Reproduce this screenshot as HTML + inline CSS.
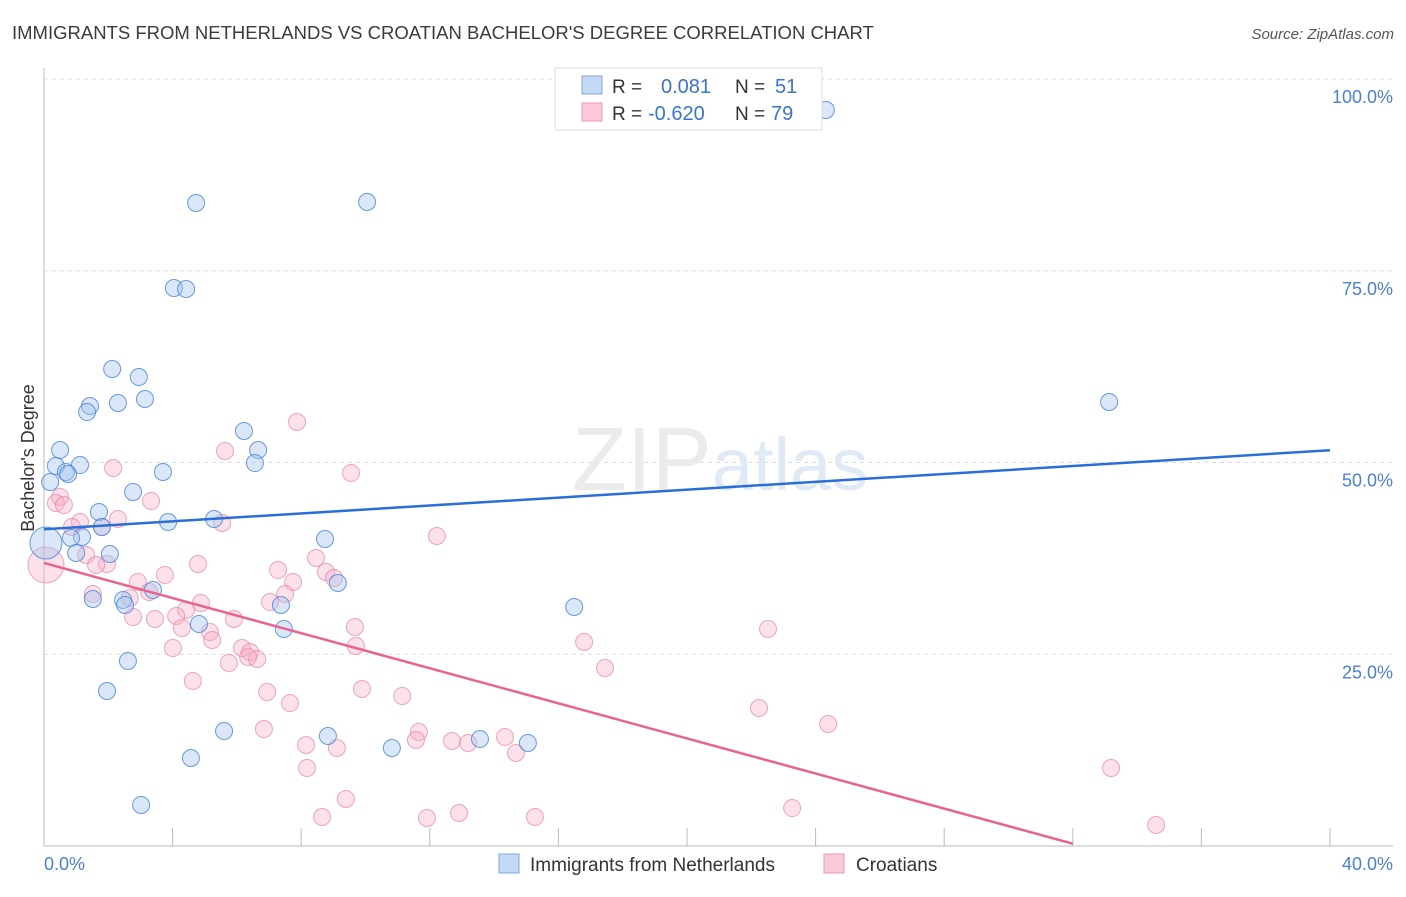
<!DOCTYPE html>
<html><head><meta charset="utf-8"><style>
body{margin:0;background:#fff;font-family:"Liberation Sans",sans-serif;}
svg text{font-family:"Liberation Sans",sans-serif;}
</style></head><body>
<svg id="c" width="1406" height="892" viewBox="0 0 1406 892">
<text x="12" y="39" font-size="18.5" fill="#3b3b3b">IMMIGRANTS FROM NETHERLANDS VS CROATIAN BACHELOR'S DEGREE CORRELATION CHART</text>
<text x="1394" y="39" font-size="15" fill="#555" font-style="italic" text-anchor="end">Source: ZipAtlas.com</text>
<text x="34" y="458" font-size="18" fill="#333" text-anchor="middle" transform="rotate(-90 34 458)">Bachelor's Degree</text>
<g id="grid"></g>
<text x="720" y="490" font-size="90" fill="#ebebeb" text-anchor="middle" font-family="Liberation Serif">ZIP<tspan fill="#e0eaf7" font-family="Liberation Sans" font-size="74">atlas</tspan></text>
<g id="pts"></g>
<g id="lines"></g>
<g>
<rect x="555" y="68" width="267" height="62" fill="#fff" stroke="#ddd"/>
<rect x="582" y="76" width="20" height="18" fill="#c5d9f4" stroke="#7aa5e0"/>
<rect x="582" y="103" width="20" height="18" fill="#f9c9d8" stroke="#ec98b2"/>
<text x="612" y="93" font-size="19" fill="#333">R = </text><text x="661" y="93" font-size="20" fill="#3a73d0">0.081</text>
<text x="735" y="93" font-size="19" fill="#333">N = </text><text x="775" y="93" font-size="20" fill="#3a73d0">51</text>
<text x="612" y="120" font-size="19" fill="#333">R = </text><text x="648" y="120" font-size="20" fill="#3a73d0">-0.620</text>
<text x="735" y="120" font-size="19" fill="#333">N = </text><text x="771" y="120" font-size="20" fill="#3a73d0">79</text>
</g>
<g>
<rect x="499" y="854" width="20" height="19" fill="#c5d9f4" stroke="#7aa5e0"/>
<text x="530" y="871" font-size="19" fill="#333">Immigrants from Netherlands</text>
<rect x="824" y="854" width="20" height="19" fill="#f9c9d8" stroke="#ec98b2"/>
<text x="856" y="871" font-size="19" fill="#333">Croatians</text>
</g>
</svg>
<script>
const blueX=[24.32,4.73,10.05,4.04,4.42,2.12,2.95,1.43,1.34,2.30,3.14,33.13,6.22,6.66,0.50,6.56,0.37,1.12,0.68,0.75,3.70,2.77,0.19,1.71,5.29,3.86,1.80,1.18,0.84,8.74,0.06,1.00,2.05,9.14,3.39,1.52,2.46,2.52,7.37,16.49,7.46,4.82,2.61,1.96,5.60,8.83,10.82,13.56,15.05,4.57,3.02];
const blueY=[95.96,83.83,83.96,72.75,72.62,62.19,61.15,57.37,56.58,57.76,58.28,57.89,54.11,51.63,51.63,49.93,49.54,49.67,48.76,48.50,48.76,46.15,47.46,43.55,42.63,42.24,41.59,40.29,40.16,40.03,39.5,38.2,38.07,34.29,33.38,32.2,32.07,31.42,31.42,31.16,28.29,28.94,24.12,20.21,14.99,14.34,12.78,13.95,13.43,11.47,5.35];
const pinkX=[7.87,5.63,9.55,2.15,0.50,0.37,0.62,3.33,12.22,2.30,1.12,0.87,5.54,1.80,4.79,0.06,1.31,1.96,1.62,3.76,7.28,8.46,7.75,8.77,9.02,2.92,3.27,1.52,7.50,2.67,4.88,4.42,7.03,4.11,3.45,2.77,5.91,4.29,5.16,5.23,9.67,22.52,4.01,6.16,9.70,6.41,6.35,6.63,5.75,16.80,17.45,4.63,6.94,9.89,11.14,7.65,22.24,24.39,6.84,11.66,8.15,11.57,9.11,12.69,13.19,14.34,14.68,33.19,8.18,9.39,8.65,23.27,11.91,12.91,15.27,34.59];
const pinkY=[55.28,51.5,48.63,49.28,45.5,44.72,44.46,44.98,40.42,42.63,42.24,41.59,42.11,41.59,36.77,36.64,37.94,36.77,36.64,35.33,35.98,37.55,34.42,35.72,34.94,34.42,33.12,32.86,32.86,32.33,31.68,30.77,31.81,29.99,29.6,29.86,29.6,28.42,27.9,26.86,28.55,28.29,25.81,25.81,26.08,25.29,24.64,24.38,23.86,26.6,23.21,21.51,20.08,20.47,19.56,18.64,17.99,15.91,15.25,14.86,13.17,13.82,12.78,13.69,13.43,14.21,12.13,10.17,10.17,6.13,3.78,4.95,3.65,4.30,3.78,2.74];
const blueBig=30, pinkBig=15;
const blueFit=[41.3,51.6], blueFitX=[0,40];
const pinkFit=[36.9,0.3], pinkFitX=[0,32];
const yTicks=[25,50,75,100];
const yTickLabels=["25.0%","50.0%","75.0%","100.0%"];
const NS="http://www.w3.org/2000/svg";
const X0=44,X1=1330,XMAX=40,Y0=846,Y100=79;
const sx=v=>X0+v*(X1-X0)/XMAX;
const sy=v=>Y0-v*(Y0-Y100)/100;
function mk(t,a,p){const e=document.createElementNS(NS,t);for(const k in a)e.setAttribute(k,a[k]);p.appendChild(e);return e;}
const grid=document.getElementById('grid');
yTicks.forEach((t,i)=>{
 const l=mk('line',{x1:X0,x2:1393,y1:sy(t),y2:sy(t),stroke:'#ddd','stroke-dasharray':'4,4'},grid);
 
 
 const tx=mk('text',{x:1393,y:sy(t)+24,'font-size':18,fill:'#4a7fd6','text-anchor':'end'},grid);
 tx.textContent=yTickLabels[i];
 
 
});
const ax=mk('line',{x1:X0,x2:X0,y1:68,y2:Y0,stroke:'#bbb'},grid);


const bx=mk('line',{x1:X0,x2:1393,y1:Y0,y2:Y0,stroke:'#bbb'},grid);


for(let v=4;v<=40;v+=4){const t=mk('line',{x1:sx(v),x2:sx(v),y1:Y0-18,y2:Y0,stroke:'#bbb'},grid);
 
 }
const xl=mk('text',{x:44,y:870,'font-size':18,fill:'#4a7fd6'},grid);xl.textContent='0.0%';


const xr=mk('text',{x:1393,y:870,'font-size':18,fill:'#4a7fd6','text-anchor':'end'},grid);xr.textContent='40.0%';


const pts=document.getElementById('pts');
pinkX.forEach((x,i)=>{const c=mk('circle',{cx:sx(x),cy:sy(pinkY[i]),r:i===pinkBig?18:8.5,fill:'rgba(246,170,195,0.35)',stroke:'rgba(234,130,165,0.7)','stroke-width':1},pts);
 
 });
blueX.forEach((x,i)=>{const c=mk('circle',{cx:sx(x),cy:sy(blueY[i]),r:i===blueBig?16:8.5,fill:'rgba(160,195,240,0.4)',stroke:'rgba(70,130,220,0.8)','stroke-width':1},pts);
 
 });
const lines=document.getElementById('lines');
const lb=mk('line',{x1:sx(blueFitX[0]),y1:sy(blueFit[0]),x2:sx(blueFitX[1]),y2:sy(blueFit[1]),stroke:'#2a6fd6','stroke-width':2.5},lines);


const lp=mk('line',{x1:sx(pinkFitX[0]),y1:sy(pinkFit[0]),x2:sx(pinkFitX[1]),y2:sy(pinkFit[1]),stroke:'#e8638f','stroke-width':2.5},lines);


</script>
</body></html>
